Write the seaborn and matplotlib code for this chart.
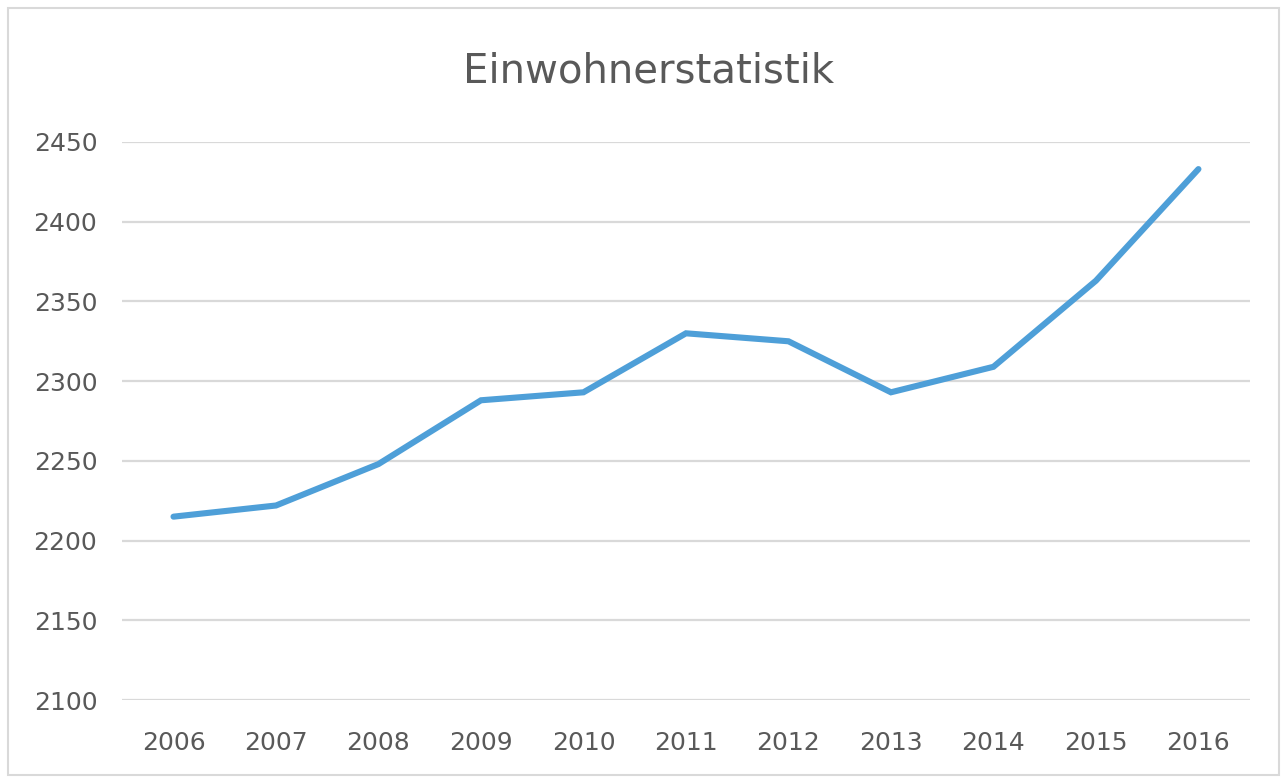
import pandas as pd
import seaborn as sns
import matplotlib.pyplot as plt
import matplotlib.patches as patches

years = [2006, 2007, 2008, 2009, 2010, 2011, 2012, 2013, 2014, 2015, 2016]
einwohner = [2215, 2222, 2248, 2288, 2293, 2330, 2325, 2293, 2309, 2363, 2433]
y_ticks = [2100, 2150, 2200, 2250, 2300, 2350, 2400, 2450]

df = pd.DataFrame({"Jahr": years, "Einwohner": einwohner})

sns.set_theme(style="white")
plt.rcParams['font.family'] = ['DejaVu Sans']
text_col = "#595959"
grid_col = "#D9D9D9"

fig = plt.figure(figsize=(12.87, 7.81), dpi=100)
ax = fig.add_axes([0.095, 0.1037, 0.876, 0.7145])

sns.lineplot(data=df, x="Jahr", y="Einwohner", ax=ax, color="#4E9FD8",
             linewidth=4.4, solid_capstyle="round", solid_joinstyle="miter")

ax.set_xlim(2005.5, 2016.5)
ax.set_ylim(2100, 2450)
ax.set_yticks(y_ticks)
ax.set_xticks(years)
ax.set_xticklabels([str(y) for y in years])
ax.yaxis.grid(True, color=grid_col, linewidth=1.6)
ax.set_axisbelow(True)
for s in ax.spines.values():
    s.set_visible(False)
ax.tick_params(axis="both", length=0, labelsize=18, labelcolor=text_col)
ax.tick_params(axis="y", pad=18)
ax.tick_params(axis="x", pad=22)
ax.set_xlabel("")
ax.set_ylabel("")

fig.text(0.504, 0.908, "Einwohnerstatistik", ha="center", va="center",
         fontsize=29, color=text_col)

fig.patches.append(patches.Rectangle((0.006, 0.008), 0.988, 0.982, transform=fig.transFigure,
                                     fill=False, edgecolor=grid_col, linewidth=1.5))

fig.savefig("out.png", dpi=100)
